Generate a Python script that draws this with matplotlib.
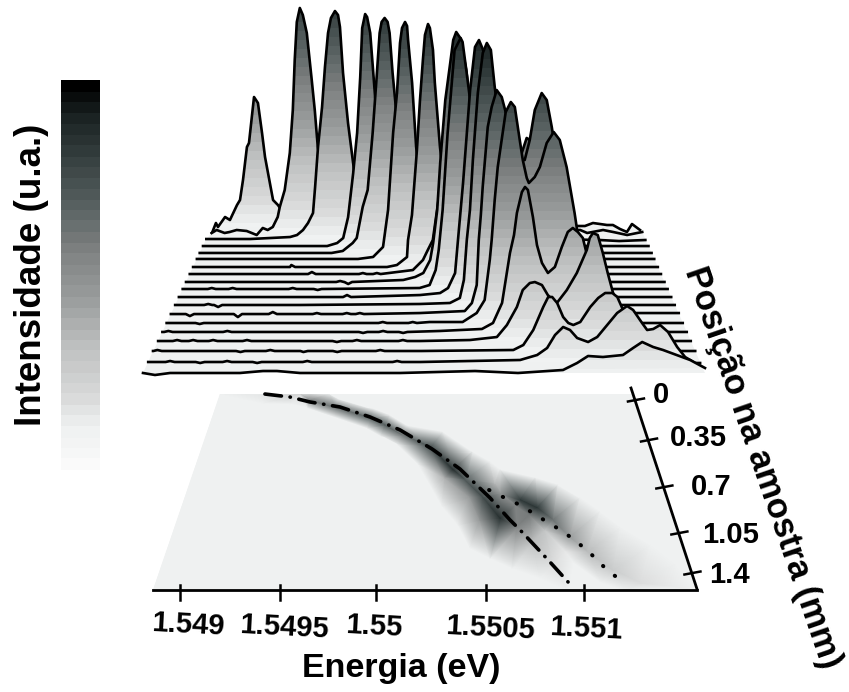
import numpy as np
import matplotlib
matplotlib.use('Agg')
import matplotlib.pyplot as plt
import matplotlib.tri as mtri
from matplotlib.colors import LinearSegmentedColormap, Normalize
from matplotlib.patches import Polygon

plt.rcParams['font.family'] = ['Liberation Sans', 'DejaVu Sans']
plt.rcParams['font.weight'] = 'bold'

# energies are in micro-eV above E0, intensities in a.u.
E0 = 1.548865
E_SPAN = 2720.0

spec_pos = [-.04, .014, .09, .166, .241, .306, .393, .469, .555, .631,
            .718, .804, .902, .999, 1.096, 1.194, 1.302, 1.421, 1.54]

e00 = [0, 25, 38, 83, 114, 159, 178, 197, 222, 235, 267, 292, 318, 337, 388, 419, 464, 527, 686, 1195, 1830, 2307, 2370, 2421, 2466, 2510, 2548, 2593, 2637, 2669, 2720]
h00 = [-6, 4, 0, 10, 7, 22, 27, 47, 80, 84, 130, 124, 94, 70, 27, 22, 12, 5, 3, 3, 3, 1, 1, 4, 3, 2, 2, -2, -5, 3, -3]
e01 = [13, 44, 94, 126, 170, 233, 296, 334, 365, 397, 428, 441, 472, 504, 523, 535, 548, 567, 586, 611, 642, 661, 680, 724, 787, 850, 1196, 1826, 2330, 2374, 2474, 2537, 2625, 2688, 2720]
h01 = [-1, 2, -1, 0, 2, 1, -3, 4, 2, 5, 15, 25, 42, 79, 122, 172, 210, 224, 217, 199, 152, 122, 85, 42, 7, 0, 1, 1, 2, -1, 2, 0, -3, -1, 0]
e02 = [0, 272, 519, 562, 599, 630, 661, 674, 692, 717, 735, 754, 772, 797, 816, 828, 847, 878, 915, 952, 1014, 1075, 1508, 2126, 2435, 2558, 2720]
h02 = [0, 0, 2, 4, 9, 16, 26, 52, 92, 132, 172, 206, 221, 228, 224, 212, 166, 116, 69, 34, 7, 1, 0, 0, -1, -2, -1]
e03 = [0, 348, 758, 819, 856, 886, 917, 941, 960, 972, 990, 1002, 1021, 1051, 1082, 1131, 1192, 1265, 1815, 2426, 2720]
h03 = [0, 0, 0, 3, 8, 29, 73, 113, 169, 218, 232, 229, 213, 149, 96, 46, 11, 1, 0, 0, 0]
e04 = [0, 421, 794, 861, 921, 945, 981, 1011, 1041, 1065, 1083, 1095, 1113, 1131, 1143, 1161, 1186, 1216, 1264, 1324, 1396, 1926, 2720]
h04 = [0, 0, 0, 2, 10, 15, 46, 63, 120, 176, 220, 231, 235, 231, 220, 180, 136, 88, 38, 8, 1, 0, 0]
e05 = [0, 494, 958, 1048, 1107, 1137, 1167, 1190, 1208, 1220, 1238, 1250, 1256, 1280, 1304, 1339, 1387, 1458, 1536, 2161, 2720]
h05 = [0, 0, 0, 2, 12, 49, 126, 166, 216, 231, 237, 233, 219, 176, 112, 59, 19, 2, 0, 0, 0]
e06 = [0, 567, 1135, 1193, 1252, 1258, 1281, 1310, 1328, 1345, 1357, 1375, 1386, 1404, 1415, 1445, 1480, 1515, 1591, 1649, 2381, 2720]
h06 = [0, 0, 0, 2, 10, 27, 52, 117, 167, 207, 232, 243, 239, 217, 184, 120, 67, 22, 2, 0, 0, 0]
e07 = [0, 549, 1288, 1346, 1374, 1403, 1444, 1484, 1519, 1548, 1577, 1617, 1663, 1721, 1790, 2137, 2720]
h07 = [0, 0, 4, 14, 24, 34, 84, 154, 199, 214, 184, 114, 44, 6, 0, 0, 0]
e08 = [0, 762, 1235, 1303, 1349, 1388, 1405, 1428, 1445, 1474, 1502, 1519, 1536, 1559, 1593, 1633, 1684, 1741, 1815, 2128, 2720]
h08 = [0, 0, 2, 5, 9, 22, 39, 72, 119, 182, 219, 242, 250, 244, 212, 152, 72, 17, 1, 0, 0]
e09 = [0, 656, 1329, 1385, 1419, 1436, 1458, 1486, 1514, 1525, 1559, 1570, 1593, 1610, 1643, 1682, 1733, 1806, 1862, 2720]
h09 = [0, 0, 1, 4, 19, 39, 79, 156, 216, 239, 251, 247, 216, 192, 149, 89, 34, 4, 0, 0]
e10 = [0, 669, 1332, 1443, 1487, 1526, 1542, 1570, 1609, 1636, 1658, 1681, 1708, 1747, 1791, 1841, 1896, 1968, 2720]
h10 = [0, 0, 2, 4, 9, 24, 57, 114, 207, 250, 257, 247, 217, 167, 107, 47, 7, 0, 0]
e11 = [0, 680, 1333, 1496, 1550, 1572, 1588, 1605, 1621, 1648, 1675, 1697, 1719, 1740, 1778, 1822, 1860, 1887, 1914, 1931, 1985, 2067, 2121, 2203, 2720]
h11 = [0, 0, 1, 2, 7, 25, 65, 95, 145, 212, 252, 262, 255, 218, 165, 135, 140, 152, 167, 165, 115, 35, 5, 0, 0]
e12 = [0, 691, 1333, 1574, 1612, 1638, 1649, 1660, 1670, 1697, 1718, 1745, 1772, 1793, 1831, 1868, 1895, 1922, 1949, 1986, 2013, 2040, 2083, 2136, 2190, 2243, 2720]
h12 = [0, 0, 1, 3, 11, 29, 74, 99, 127, 187, 207, 224, 217, 202, 174, 154, 154, 174, 204, 221, 214, 187, 134, 54, 9, 1, 1]
e13 = [0, 701, 1386, 1560, 1634, 1676, 1703, 1713, 1729, 1745, 1787, 1814, 1835, 1861, 1877, 1898, 1909, 1940, 1967, 2003, 2040, 2072, 2108, 2150, 2161, 2193, 2230, 2282, 2720]
h13 = [0, 0, 1, 1, 10, 23, 63, 83, 123, 156, 211, 221, 216, 183, 163, 145, 140, 146, 156, 180, 191, 183, 156, 110, 96, 43, 8, 0, 0]
e14 = [0, 715, 1440, 1658, 1715, 1762, 1803, 1824, 1839, 1865, 1881, 1896, 1922, 1943, 1969, 2000, 2036, 2072, 2103, 2129, 2155, 2181, 2228, 2280, 2331, 2720]
h14 = [0, 0, 1, 3, 9, 29, 79, 97, 119, 140, 145, 142, 115, 87, 69, 59, 65, 85, 100, 104, 100, 94, 57, 12, 0, 0]
e15 = [0, 725, 1337, 1592, 1730, 1781, 1832, 1862, 1898, 1924, 1960, 1990, 2016, 2036, 2087, 2138, 2189, 2204, 2220, 2245, 2271, 2296, 2322, 2368, 2434, 2485, 2720]
h15 = [0, 0, 0, 1, 4, 16, 34, 51, 58, 59, 56, 46, 41, 38, 51, 68, 91, 103, 108, 106, 88, 68, 49, 21, 3, 0, 0]
e16 = [0, 738, 1345, 1807, 1857, 1907, 1957, 1982, 2002, 2027, 2057, 2083, 2108, 2143, 2193, 2233, 2268, 2304, 2329, 2369, 2444, 2494, 2720]
h16 = [0, 0, 0, 1, 6, 21, 44, 54, 54, 48, 34, 28, 26, 29, 44, 53, 58, 58, 54, 36, 11, 0, 0]
e17 = [0, 749, 1340, 1833, 1917, 1966, 2005, 2045, 2079, 2114, 2168, 2213, 2262, 2311, 2360, 2390, 2434, 2459, 2489, 2523, 2562, 2607, 2646, 2695, 2720]
h17 = [0, 0, 0, 2, 7, 14, 27, 35, 32, 24, 20, 25, 37, 49, 56, 52, 39, 32, 33, 37, 30, 15, 5, -1, -1]
e18 = [0, 58, 131, 300, 469, 581, 648, 760, 944, 1244, 1607, 1815, 2033, 2101, 2154, 2226, 2323, 2372, 2416, 2469, 2517, 2648, 2720]
h18 = [0, -2, 0, 0, 0, 2, 2, 0, 0, 0, 2, 0, 3, 10, 17, 16, 18, 25, 31, 26, 23, 13, 5]

spec_e = [e00, e01, e02, e03, e04, e05, e06, e07, e08, e09, e10, e11, e12, e13, e14, e15, e16, e17, e18]
spec_h = [h00, h01, h02, h03, h04, h05, h06, h07, h08, h09, h10, h11, h12, h13, h14, h15, h16, h17, h18]

# small noise bumps on the flat parts of the traces: spectrum index -> energies, heights
noise_e = {6: [575], 7: [705, 999, 1080], 8: [876, 922], 9: [163, 280, 617, 757], 10: [929], 11: [180, 234],
           12: [102, 359, 546, 782, 942, 1012], 13: [174, 1139, 1297], 14: [31, 337, 1041, 1145, 1249],
           15: [97, 179, 281, 454, 913, 1015, 1250], 16: [20, 437, 587, 753, 923, 1139],
           17: [108, 256, 389, 537, 784, 1227]}
noise_h = {6: [2], 7: [2, 1, 1], 8: [1, -2], 9: [1, 1, 1, -1], 10: [2], 11: [1, -2],
           12: [-2, -3, 2, 1, 1, 1], 13: [-1, 1, 1], 14: [1, 1, -1, 1, -1],
           15: [1, 1, 1, 1, -1, 1, 1], 16: [1, -1, 1, -1, -1, 1],
           17: [1, -1, 1, -1, 1, 1]}

# samples of the intensity map
map_e = [0, 2720, 0, 2720, 527, 724, 278, 293, 464, 476, 600, 603, 598, 784, 789, 780, 1003, 1017, 990, 1101, 1122, 1082,
         1217, 1239, 1189, 1384, 1458, 1313, 1519, 1637, 1401, 1587, 1740, 1451, 1683, 1537, 1758, 1769, 1596, 1859, 1856,
         1697, 1935, 1934, 1807, 2006, 2021, 1944, 2095, 1782, 1795, 1891, 1993, 1979, 2119, 2058, 2230, 2134, 2325, 2211,
         2415, 2126, 2323, 2549, 2244, 2444, 2649, 2360, 2589, 2075, 1235, 1471, 1610, 1658]
map_p = [-.04, -.04, 1.54, 1.54, -.04, -.04, -.03, .032, -.024, .04, .008, -.056, .072, .072, 0, .145, .153, .08, .233, .209, .129, .298,
         .29, .217, .37, .386, .265, .523, .571, .427, .732, .652, .507, .861, .788, 1.014, .684, .957, 1.2, .853, 1.03,
         1.279, .933, 1.134, 1.36, 1.054, 1.319, 1.44, 1.223, .756, .571, .812, .636, .877, .692, .973, .796, 1.11, .909, 1.223,
         1.03, 1.311, 1.376, 1.175, 1.47, 1.48, 1.335, 1.54, 1.5, 1.54, 1.54, .636, .788, .973]
map_i = [0, 0, 0, 0, 30, 0, 12, 0, 40, 0, 150, 0, 0, 172, 0, 0, 190, 0, 0, 195, 0, 0,
         170, 0, 0, 215, 0, 0, 250, 0, 0, 200, 0, 0, 215, 0, 80, 250, 0, 150, 150,
         0, 160, 75, 0, 60, 23, 0, 10, 120, 0, 240, 0, 245, 0, 170, 0, 110, 0, 75,
         0, 0, 49, 0, 0, 23, 0, 0, 10, 0, 0, 90, 120, 120]

ridge1_e = [296, 465, 603, 802, 1003, 1197, 1396, 1560, 1723, 1822, 1871, 1998, 2082]
ridge1_p = [-.04, -.016, .024, .064, .145, .249, .402, .563, .796, .973, 1.054, 1.295, 1.472]
ridge2_e = [1721, 1796, 1876, 1953, 2023, 2097, 2166, 2227, 2285, 2347]
ridge2_p = [.732, .788, .845, .917, .989, 1.062, 1.15, 1.247, 1.36, 1.456]

energy_ticks = [1.54900, 1.54950, 1.54998, 1.55053, 1.55102]
energy_labels = ['1.549', '1.5495', '1.55', '1.5505', '1.551']
pos_ticks = [.008, .33, .708, 1.078, 1.4]
pos_labels = ['0', '0.35', '0.7', '1.05', '1.4']

# label nudges, px
energy_shift_x = [8, 4, -2, 4, 2]
energy_shift_y = [34, 37, 36, 38, 38]
pos_shift_x = [18, 22, 28, 24, 18]
pos_shift_y = [-5, -2, 0, 2, 2]

gray_stops = [(0, '#fafafa'), (.1, '#eff1f1'), (.18, '#d8d9d9'), (.31, '#bfc1c1'), (.44, '#999c9c'),
              (.56, '#808383'), (.69, '#565f5f'), (.82, '#333d3d'), (.92, '#1a2222'), (1, '#000000')]
cmap = LinearSegmentedColormap.from_list('inten', gray_stops, N=256)
cmap_steps = cmap.resampled(36)
norm = Normalize(-32, 292)
FLOOR = '#eff1f1'


def upper_xy(e, pos):
    y = 230.7 + 92.4 * pos
    d = (y - 227) / 146.
    xl = 212 - 69 * d
    xr = 640 + 65 * d
    return xl + np.asarray(e) / E_SPAN * (xr - xl), y


def floor_xy(e, pos):
    e, pos = np.asarray(e, float), np.asarray(pos, float)
    y = 399 + 124.3 * pos
    d = (y - 394) / 196.
    xl = 220 - 67 * d
    xr = 633 + 64 * d
    return xl + e / E_SPAN * (xr - xl), y


fig = plt.figure(figsize=(8.49, 6.92), dpi=100)
ax = fig.add_axes([0, 0, 1, 1])

# ridgeline spectra, back to front
z = 2
n = len(spec_pos)
for i in range(n):
    e = list(spec_e[i])
    h = list(spec_h[i])
    for ne, nh in zip(noise_e.get(i, []), noise_h.get(i, [])):
        e += [ne - 22, ne, ne + 22]
        h += [0, nh, 0]
    order = np.argsort(e)
    e = np.array(e)[order]
    h = np.array(h)[order]

    x, base = upper_xy(e, spec_pos[i])
    y = base - h
    if i < n - 1:
        xl2, base2 = upper_xy([0, E_SPAN], spec_pos[i + 1])
        pts = list(zip(x, y)) + [(xl2[1], base2), (xl2[0], base2)]
    else:
        pts = list(zip(x, y))
    poly = Polygon(pts, closed=True, fc=FLOOR, ec='none', zorder=z)
    ax.add_patch(poly)
    grad = np.linspace(0, 292, 293).reshape(-1, 1)
    im = ax.imshow(grad, cmap=cmap_steps, norm=norm, origin='lower', aspect='auto', interpolation='nearest',
                   extent=(x.min() - 5, x.max() + 5, base, base - 292), zorder=z + 0.1)
    im.set_clip_path(poly)
    ax.plot(x, y, color='black', lw=1.9, solid_joinstyle='round', zorder=z + 0.2)
    z += 1

# intensity map on the floor
mx, my = floor_xy(map_e, map_p)
floor_corners = np.array(floor_xy([0, E_SPAN, E_SPAN, 0], [-.04, -.04, 1.54, 1.54])).T
floor_poly = Polygon(floor_corners, closed=True, fc=FLOOR, ec='none', zorder=z)
ax.add_patch(floor_poly)
tri = mtri.Triangulation(mx, my)
tp = ax.tripcolor(tri, map_i, shading='gouraud', cmap=cmap, norm=norm, zorder=z + 0.1)
tp.set_clip_path(floor_poly)

rx, ry = floor_xy(ridge1_e, ridge1_p)
ax.plot(rx, ry, color='black', lw=2.6, ls=(0, (4.6, 2.4, 0.1, 2.4)), dash_capstyle='round', zorder=z + 0.3)
rx, ry = floor_xy(ridge2_e, ridge2_p)
ax.plot(rx, ry, color='black', lw=2.9, ls=(0, (0.1, 3.7)), dash_capstyle='round', zorder=z + 0.3)

# energy axis
_, y_front = floor_xy(0, 1.54)
ax.plot(floor_corners[[3, 2], 0], [y_front, y_front], color='black', lw=2.0, zorder=z + 0.4)
for val, lab, sx, sy in zip(energy_ticks, energy_labels, energy_shift_x, energy_shift_y):
    tx, _ = floor_xy((val - E0) * 1e6, 1.54)
    ax.plot([tx, tx], [y_front - 5, y_front + 10], color='black', lw=1.8, zorder=z + 0.4)
    ax.text(tx + sx, y_front + sy, lab, fontsize=21, ha='center', va='center', rotation=-3)

# position axis
ax.plot([631, 697], [388, 589], color='black', lw=2.0, zorder=z + 0.4)
for val, lab, sx, sy in zip(pos_ticks, pos_labels, pos_shift_x, pos_shift_y):
    tx, ty = floor_xy(E_SPAN, val)
    ax.plot([tx - 7, tx + 9], [ty + 1.5, ty - 1.5], color='black', lw=1.8, zorder=z + 0.4)
    ax.text(tx + sx, ty + sy, lab, fontsize=21, ha='left', va='center')

# intensity scale bar
levels = np.linspace(-32, 292, 300).reshape(-1, 1)
ax.imshow(levels, cmap=cmap_steps, norm=norm, origin='lower', aspect='auto', interpolation='nearest',
          extent=(61, 100, 470, 80), zorder=2)

ax.text(32, 275, 'Intensidade (u.a.)', fontsize=26.5, rotation=90, ha='center', va='center')
ax.text(401, 669, 'Energia (eV)', fontsize=24.5, ha='center', va='center')
ax.text(762, 467, 'Posição na amostra (mm)', fontsize=25, rotation=-71, ha='center', va='center', rotation_mode='anchor')

ax.set_xlim(0, 849)
ax.set_ylim(692, 0)
ax.axis('off')
fig.savefig('out.png', dpi=100)
